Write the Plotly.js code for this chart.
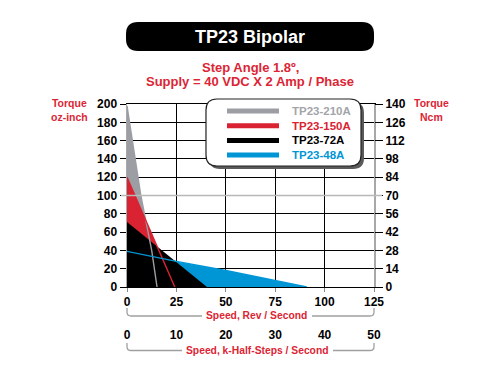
<!DOCTYPE html>
<html>
<head>
<meta charset="utf-8">
<script src="https://cdn.plot.ly/plotly-3.0.1.min.js"></script>
<style>html,body{margin:0;padding:0;background:#fff;}#chart{width:500px;height:375px;}</style>
</head>
<body>
<div id="chart"></div>
<script>
// ---- data ----
const seriesNames = ['TP23-210A', 'TP23-150A', 'TP23-72A', 'TP23-48A'];
const speed210 = [0, 3.5, 7, 10, 12.5, 15.2];
const torque210 = [198, 147, 100, 67, 40, 0];
const speed150 = [0, 10, 24.2];
const torque150 = [120, 70, 0];
const speed72 = [0, 12.5, 25, 40.5];
const torque72 = [71, 49, 28, 0];
const speed48 = [0, 25, 50, 91];
const torque48 = [39, 28, 18, 0];
const yTicksOzIn = [0, 20, 40, 60, 80, 100, 120, 140, 160, 180, 200];
const yTicksNcm = [0, 14, 28, 42, 56, 70, 84, 98, 112, 126, 140];
const xTicksRev = [0, 25, 50, 75, 100, 125];
const xTicksKHalf = [0, 10, 20, 30, 40, 50];

// ---- style ----
const FONT = 'Liberation Sans, Arial, Helvetica, sans-serif';
const RED = '#dc2535';
const C = {gray: '#9c9ea3', grayText: '#a3a5a9', red: '#d92332', black: '#000000', blue: '#0096d6'};
const seriesColors = [C.gray, C.red, C.black, C.blue];
const seriesTextColors = [C.grayText, C.red, C.black, C.blue];
const L = {w: 500, h: 375, ml: 127, mr: 126, mt: 104, mb: 20};
const PW = L.w - L.ml - L.mr, PH = L.h - L.mt - L.mb;
const px = x => Number(((x - L.ml) / PW).toFixed(4));
const py = y => Number(((L.h - L.mb - y) / PH).toFixed(4));
const plotBottom = 287;

function roundRect(x0, y0, x1, y1, r) {
  return 'M' + px(x0 + r) + ',' + py(y0) + ' L' + px(x1 - r) + ',' + py(y0) +
    ' Q' + px(x1) + ',' + py(y0) + ' ' + px(x1) + ',' + py(y0 + r) +
    ' L' + px(x1) + ',' + py(y1 - r) +
    ' Q' + px(x1) + ',' + py(y1) + ' ' + px(x1 - r) + ',' + py(y1) +
    ' L' + px(x0 + r) + ',' + py(y1) +
    ' Q' + px(x0) + ',' + py(y1) + ' ' + px(x0) + ',' + py(y1 - r) +
    ' L' + px(x0) + ',' + py(y0 + r) +
    ' Q' + px(x0) + ',' + py(y0) + ' ' + px(x0 + r) + ',' + py(y0) + ' Z';
}
function bracket(xl, xr, yTop, yBot, gapL, gapR, r) {
  return 'M' + px(xl) + ',' + py(yTop) + ' L' + px(xl) + ',' + py(yBot - r) +
    ' Q' + px(xl) + ',' + py(yBot) + ' ' + px(xl + r) + ',' + py(yBot) +
    ' L' + px(gapL) + ',' + py(yBot) +
    ' M' + px(gapR) + ',' + py(yBot) + ' L' + px(xr - r) + ',' + py(yBot) +
    ' Q' + px(xr) + ',' + py(yBot) + ' ' + px(xr) + ',' + py(yBot - r) +
    ' L' + px(xr) + ',' + py(yTop);
}

const fillTrace = (x, y, col, name) => ({
  x: x, y: y, type: 'scatter', mode: 'lines', fill: 'tozeroy', fillcolor: col,
  line: {width: 0, color: col}, name: name, showlegend: false, hoverinfo: 'skip'
});
const lineTrace = (x, y, col, name) => ({
  x: x, y: y, type: 'scatter', mode: 'lines', line: {width: 1.4, color: col},
  name: name, showlegend: false, hoverinfo: 'skip'
});

const traces = [
  fillTrace(speed48, torque48, C.blue, seriesNames[3]),
  fillTrace(speed210, torque210, C.gray, seriesNames[0]),
  fillTrace(speed150, torque150, C.red, seriesNames[1]),
  fillTrace(speed72, torque72, C.black, seriesNames[2]),
  lineTrace(speed210, torque210, C.gray, seriesNames[0]),
  lineTrace(speed150, torque150, C.red, seriesNames[1]),
  lineTrace(speed48, torque48, C.blue, seriesNames[3]),
  // empty trace so the secondary axes (k-half-steps, Ncm) are drawn
  {x: [], y: [], xaxis: 'x2', yaxis: 'y2', type: 'scatter', mode: 'lines', showlegend: false, hoverinfo: 'skip'}
];

const tickFont = {family: FONT, size: 12, color: '#000', weight: 'bold'};
const redFont = (s) => ({family: FONT, size: s, color: RED, weight: 'bold'});

// manual legend (rounded box with shadow)
const legendRowsY = [111, 125.7, 140.4, 155.1];
const legendShapes = seriesNames.map((n, i) => ({
  type: 'line', xref: 'paper', yref: 'paper', x0: px(227), x1: px(279), y0: py(legendRowsY[i]), y1: py(legendRowsY[i]),
  line: {width: 5, color: seriesColors[i]}, layer: 'above'
}));
const legendTexts = seriesNames.map((n, i) => ({
  text: n, xref: 'paper', yref: 'paper', x: px(290), y: py(legendRowsY[i]),
  xanchor: 'left', yanchor: 'middle', showarrow: false,
  font: {family: FONT, size: 11.5, color: seriesTextColors[i], weight: 'bold'}
}));

const layout = {
  width: L.w, height: L.h,
  margin: {l: L.ml, r: L.mr, t: L.mt, b: L.mb, pad: 0},
  paper_bgcolor: '#fff', plot_bgcolor: '#fff',
  showlegend: false,
  title: {text: 'TP23 Bipolar', font: {family: FONT, size: 18, color: '#fff', weight: 'bold'},
    x: 0.5, xref: 'container', xanchor: 'center', y: 1 - 36.5 / L.h, yref: 'container', yanchor: 'middle'},
  xaxis: {
    range: [0, 125], tickvals: xTicksRev, ticktext: xTicksRev.map(String),
    showgrid: true, gridcolor: '#000', gridwidth: 1,
    zeroline: false, showline: true, linecolor: '#000', linewidth: 1, mirror: true,
    ticks: 'outside', ticklen: 4, tickcolor: '#8a8a8a', tickfont: tickFont,
    layer: 'above traces', fixedrange: true
  },
  xaxis2: {
    range: [0, 50], tickvals: xTicksKHalf, ticktext: xTicksKHalf.map(String),
    overlaying: 'x', anchor: 'free', position: (L.h - L.mb - 325.5) / PH, side: 'bottom',
    showgrid: false, zeroline: false, showline: false, ticks: '', tickfont: tickFont,
    fixedrange: true
  },
  yaxis: {
    domain: [(L.h - L.mb - plotBottom) / PH, 1],
    range: [0, 200], tickvals: yTicksOzIn, ticktext: yTicksOzIn.map(String),
    showgrid: true, gridcolor: '#000', gridwidth: 1,
    zeroline: false, showline: true, linecolor: '#a8a8a8', linewidth: 1.5, mirror: true,
    ticks: 'outside', ticklen: 6, tickcolor: '#000', tickfont: tickFont,
    layer: 'above traces', fixedrange: true
  },
  yaxis2: {
    overlaying: 'y', side: 'right', anchor: 'x',
    range: [0, 140], tickvals: yTicksNcm, ticktext: yTicksNcm.map(String),
    showgrid: false, zeroline: false, showline: false,
    ticks: 'outside', ticklen: 8, tickcolor: '#000', tickfont: tickFont,
    fixedrange: true
  },
  shapes: [
    // title bar
    {type: 'path', xref: 'paper', yref: 'paper', path: roundRect(126, 22, 374, 51, 12),
      fillcolor: '#000', line: {width: 0}, layer: 'above'},
    // gray mid line at 100 oz-in
    {type: 'line', xref: 'paper', yref: 'y', x0: px(121), x1: px(382), y0: 100, y1: 100,
      line: {width: 1.5, color: '#b8b8b8'}, layer: 'above'},
    // legend box shadow + box
    {type: 'path', xref: 'paper', yref: 'paper', path: roundRect(209, 102, 364, 169, 11),
      fillcolor: '#5a5a5a', line: {width: 0}, layer: 'above'},
    {type: 'path', xref: 'paper', yref: 'paper', path: roundRect(206, 99, 361, 166, 11),
      fillcolor: '#fff', line: {width: 1.2, color: '#222'}, layer: 'above'},
    // brackets under the two speed scales
    {type: 'path', xref: 'paper', yref: 'paper', path: bracket(127, 374, 308, 316, 202, 312, 4),
      line: {width: 1.3, color: '#a0a0a0'}, layer: 'above'},
    {type: 'path', xref: 'paper', yref: 'paper', path: bracket(127, 374, 343, 350.5, 182, 333, 4),
      line: {width: 1.3, color: '#a0a0a0'}, layer: 'above'}
  ].concat(legendShapes),
  annotations: [
    {text: 'Step Angle 1.8º,', xref: 'paper', yref: 'paper', x: px(250), y: py(67),
      xanchor: 'center', yanchor: 'middle', showarrow: false, font: redFont(13)},
    {text: 'Supply = 40 VDC X 2 Amp / Phase', xref: 'paper', yref: 'paper', x: px(250), y: py(81),
      xanchor: 'center', yanchor: 'middle', showarrow: false, font: redFont(13)},
    {text: 'Torque<br>oz-inch', xref: 'paper', yref: 'paper', x: px(70), y: py(110),
      xanchor: 'center', yanchor: 'middle', showarrow: false, font: redFont(10.5)},
    {text: 'Torque<br>Ncm', xref: 'paper', yref: 'paper', x: px(431), y: py(110),
      xanchor: 'center', yanchor: 'middle', showarrow: false, font: redFont(10.5)},
    {text: 'Speed, Rev / Second', xref: 'paper', yref: 'paper', x: px(257), y: py(316),
      xanchor: 'center', yanchor: 'middle', showarrow: false, font: redFont(10.3)},
    {text: 'Speed, k-Half-Steps / Second', xref: 'paper', yref: 'paper', x: px(257.5), y: py(350.5),
      xanchor: 'center', yanchor: 'middle', showarrow: false, font: redFont(10.3)}
  ].concat(legendTexts)
};

Plotly.newPlot('chart', traces, layout, {staticPlot: true, displayModeBar: false});
</script>
</body>
</html>
